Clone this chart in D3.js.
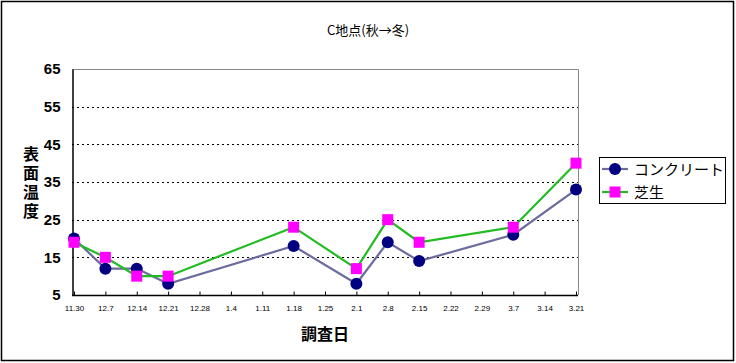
<!DOCTYPE html>
<html>
<head>
<meta charset="utf-8">
<script src="https://cdn.jsdelivr.net/npm/d3@7"></script>
<style>
  body { margin: 0; background: #fff; }
  svg { display: block; }
</style>
</head>
<body>
<svg id="chart" width="736" height="363"></svg>
<script>
// survey dates (weekly)
var dates = ['11.30', '12.7', '12.14', '12.21', '12.28', '1.4', '1.11', '1.18', '1.25',
  '2.1', '2.8', '2.15', '2.22', '2.29', '3.7', '3.14', '3.21']

// surface temperature, null = not measured
var concrete = [20, 12, 12, 8, null, null, null, 18, null, 8, 19, 14, null, null, 21, null, 33]
var grass = [19, 15, 10, 10, null, null, null, 23, null, 12, 25, 19, null, null, 23, null, 40]

var yTicks = [5, 15, 25, 35, 45, 55, 65]

var jp = '"Noto Sans CJK JP", sans-serif'
var num = '"Liberation Sans", Arial, sans-serif'

var svg = d3.select('#chart')

svg.append('rect')
  .attr('x', 1.5).attr('y', 1.5).attr('width', 732).attr('height', 359)
  .attr('fill', '#fff').attr('stroke', '#000').attr('stroke-width', 1.5)

// plot area edges (window.top is taken, so prefixed names)
var plotL = 72, plotR = 578, plotT = 69, plotB = 295

var x = d3.scalePoint().domain(dates).range([74, 576])
var y = d3.scaleLinear().domain([5, 65]).range([plotB, plotT])

// gridlines
svg.append('g').selectAll('line')
  .data(yTicks.filter(function (d) { return d > 5 && d < 65 }))
  .enter().append('line')
  .attr('x1', plotL).attr('x2', plotR)
  .attr('y1', function (d) { return Math.round(y(d)) + 0.5 })
  .attr('y2', function (d) { return Math.round(y(d)) + 0.5 })
  .attr('stroke', '#000').attr('stroke-dasharray', '2,3')

// top and right border of plot area
svg.append('path')
  .attr('d', 'M' + plotL + ',' + (plotT + 0.5) + 'H' + (plotR + 0.5) + 'V' + plotB)
  .attr('fill', 'none').attr('stroke', '#888')

// y axis
var yAxis = svg.append('g')
  .attr('transform', 'translate(' + (plotL + 0.5) + ',0)')
  .call(d3.axisLeft(y).tickValues(yTicks).tickSize(0).tickPadding(12))
yAxis.select('.domain').attr('stroke', '#000').attr('stroke-width', 1.5)
yAxis.selectAll('text')
  .attr('font-family', num).attr('font-size', 15).attr('font-weight', 'bold').attr('fill', '#000')

// x axis
var xAxis = svg.append('g')
  .attr('transform', 'translate(0,' + (plotB + 0.5) + ')')
  .call(d3.axisBottom(x).tickSizeInner(-4).tickSizeOuter(0).tickPadding(10))
xAxis.select('.domain').attr('stroke', '#000').attr('stroke-width', 1.5)
  .attr('d', 'M' + plotL + ',0H' + plotR)
xAxis.selectAll('.tick line').attr('stroke', '#000')
xAxis.selectAll('text')
  .attr('font-family', num).attr('font-size', 8).attr('fill', '#000')

// series
var series = [
  { name: 'コンクリート', values: concrete, line: '#6b6b9e', fill: '#000080', shape: 'circle' },
  { name: '芝生', values: grass, line: '#22bb22', fill: '#ff00ff', shape: 'square' }
]

var line = d3.line()
  .x(function (d) { return x(d.date) })
  .y(function (d) { return y(d.v) })

function drawMarker (g, s, cx, cy) {
  if (s.shape === 'circle') {
    g.append('circle').attr('cx', cx).attr('cy', cy).attr('r', 6).attr('fill', s.fill)
  } else {
    g.append('rect').attr('x', cx - 5.5).attr('y', cy - 5.5).attr('width', 11).attr('height', 11)
      .attr('fill', s.fill)
  }
}

series.forEach(function (s) {
  var pts = []
  s.values.forEach(function (v, i) {
    if (v !== null) pts.push({ date: dates[i], v: v })
  })
  s.pts = pts
  svg.append('path').datum(pts)
    .attr('d', line)
    .attr('fill', 'none').attr('stroke', s.line).attr('stroke-width', 2.2)
})
series.forEach(function (s) {
  var g = svg.append('g')
  s.pts.forEach(function (p) { drawMarker(g, s, x(p.date), y(p.v)) })
})

// legend
var lg = svg.append('g')
lg.append('rect').attr('x', 599.5).attr('y', 157.5).attr('width', 126).attr('height', 46)
  .attr('fill', '#fff').attr('stroke', '#000')
series.forEach(function (s, i) {
  var ly = 169 + i * 23
  lg.append('line').attr('x1', 602).attr('x2', 628).attr('y1', ly).attr('y2', ly)
    .attr('stroke', s.line).attr('stroke-width', 2.2)
  drawMarker(lg, s, 615, ly)
  lg.append('text').attr('x', 634).attr('y', ly + 5.5)
    .attr('font-family', jp).attr('font-size', 15).attr('fill', '#000')
    .text(s.name)
})

// titles
svg.append('text').attr('x', 368).attr('y', 35).attr('text-anchor', 'middle')
  .attr('font-family', jp).attr('font-size', 13).attr('fill', '#000')
  .text('C地点(秋→冬)')

var yt = svg.append('text').attr('font-family', jp).attr('font-size', 16)
  .attr('font-weight', 'bold').attr('text-anchor', 'middle').attr('fill', '#000')
'表面温度'.split('').forEach(function (c, i) {
  yt.append('tspan').attr('x', 31).attr('y', 160 + i * 19).text(c)
})

svg.append('text').attr('x', 325).attr('y', 340).attr('text-anchor', 'middle')
  .attr('font-family', jp).attr('font-size', 16).attr('font-weight', 'bold').attr('fill', '#000')
  .text('調査日')
</script>
</body>
</html>
